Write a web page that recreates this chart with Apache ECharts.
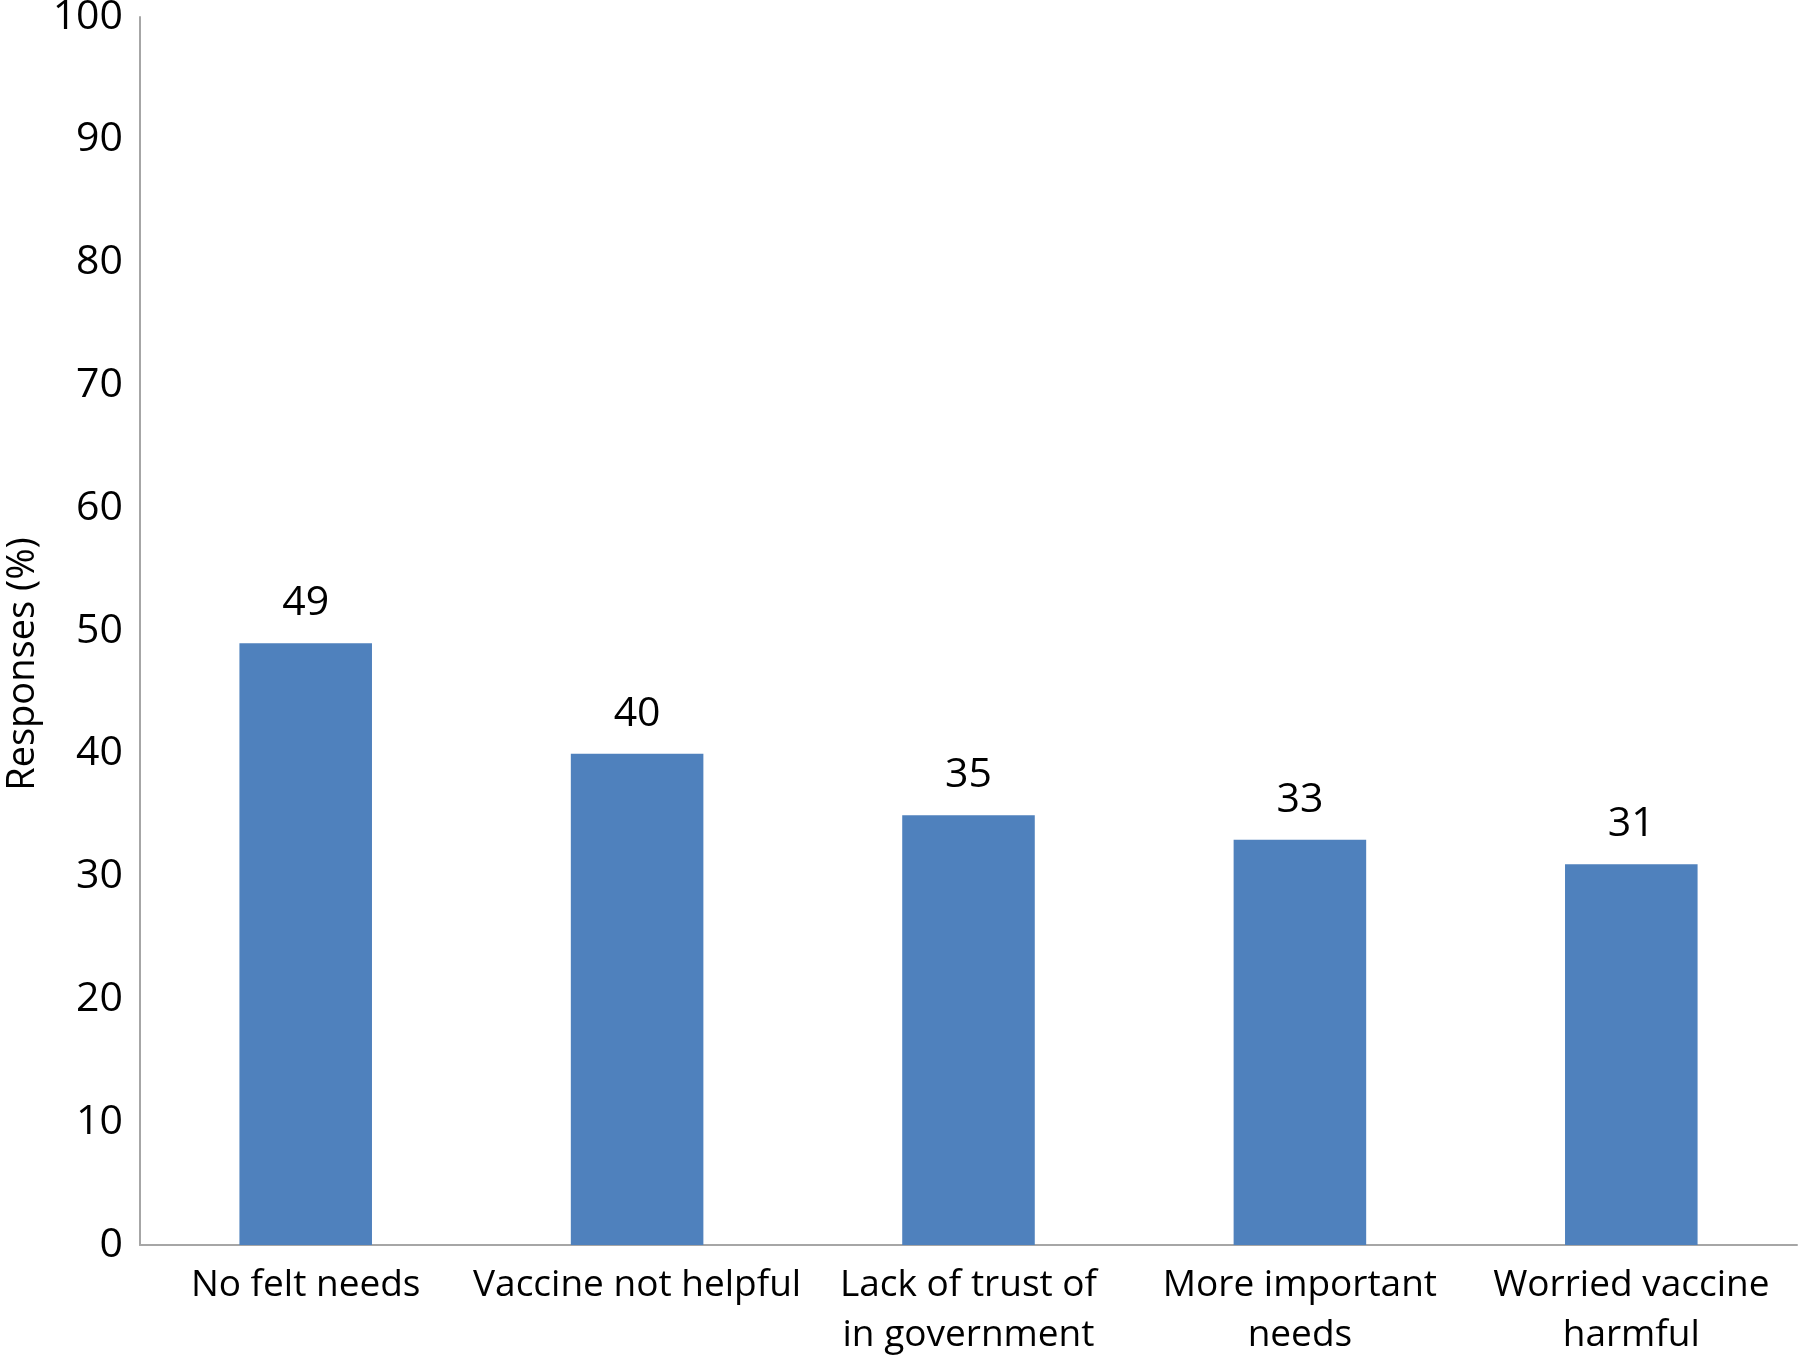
<!DOCTYPE html>
<html>
<head>
<meta charset="utf-8">
<script src="https://cdn.jsdelivr.net/npm/echarts@6/dist/echarts.min.js"></script>
<style>html,body{margin:0;padding:0;background:#fff}#c{width:1800px;height:1359px}</style>
</head>
<body>
<div id="c"></div>
<script>
const categories = ['No felt needs', 'Vaccine not helpful', 'Lack of trust of\nin government', 'More important\nneeds', 'Worried vaccine\nharmful'];
const values = [49, 40, 35, 33, 31];
const yTicks = [0, 10, 20, 30, 40, 50, 60, 70, 80, 90, 100];

const chart = echarts.init(document.getElementById('c'));
const font = 'Open Sans';
chart.setOption({
  animation: false,
  backgroundColor: '#fff',
  grid: { left: 140, right: 3, top: 17, bottom: 114, containLabel: false, outerBoundsMode: 'none' },
  xAxis: {
    type: 'category',
    data: categories,
    axisLine: { lineStyle: { color: '#a6a6a6', width: 2 } },
    axisTick: { show: false },
    axisLabel: { color: '#000', fontFamily: font, fontSize: 37, margin: 15, lineHeight: 50, interval: 0 }
  },
  yAxis: {
    type: 'value',
    min: yTicks[0], max: yTicks[yTicks.length - 1], interval: 10,
    name: 'Responses (%)',
    nameLocation: 'middle',
    nameGap: 94,
    nameRotate: 90,
    nameTextStyle: { color: '#000', fontFamily: font, fontSize: 38, padding: [0, 66, 0, 0] },
    axisLine: { show: true, lineStyle: { color: '#a6a6a6', width: 2 } },
    axisTick: { show: false },
    splitLine: { show: false },
    axisLabel: { color: '#000', fontFamily: font, fontSize: 41, margin: 17 }
  },
  series: [{
    type: 'bar',
    data: values,
    barCategoryGap: '60%',
    itemStyle: { color: '#4f81bd' },
    label: { show: true, position: 'top', distance: 19, color: '#000', fontFamily: font, fontSize: 41 }
  }]
});
</script>
</body>
</html>
